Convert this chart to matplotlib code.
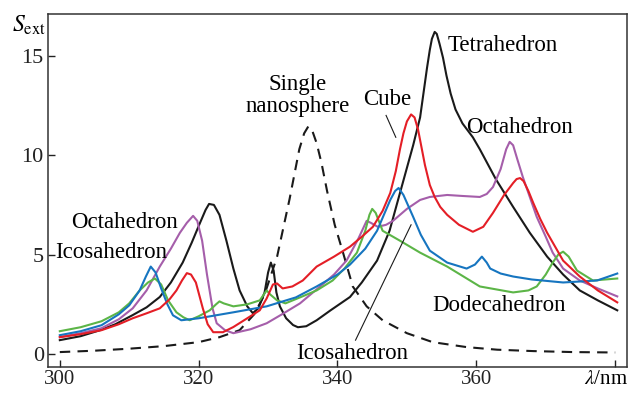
import matplotlib
matplotlib.use("Agg")
import matplotlib.pyplot as plt

plt.rcParams['font.family'] = ['Liberation Serif', 'DejaVu Serif']
plt.rcParams['mathtext.fontset'] = 'stix'

# wavelength (nm) and extinction, one pair of lists per shape
sphere_x = [300, 305, 310, 315, 320, 323, 325.9, 328, 329.5, 331.3, 333.1, 334.5, 335.2, 335.8, 336.4,
            337, 337.7, 338.5, 339.6, 340.8, 342.2, 344.2, 346.5, 350, 353.7, 358.6, 363, 368.2, 374, 380]
sphere_y = [0.1, 0.17, 0.27, 0.4, 0.6, 0.85, 1.2, 2.0, 3.0, 4.9, 7.8, 10.3, 11.1, 11.45, 11.2,
            10.6, 9.6, 8.2, 6.5, 5.1, 3.4, 2.4, 1.7, 1.05, 0.6, 0.35, 0.22, 0.15, 0.1, 0.08]

tetra_x = [300, 303, 305.8, 308, 310.5, 312.5, 314.4, 316, 317.7, 319, 320.2, 321, 321.5, 322.2, 323, 324,
           325, 325.9, 327, 327.8, 328.6, 329.5, 330, 330.4, 330.8, 331.2, 331.7, 332.6, 333.6, 334.3, 335.5,
           337, 339, 341.8, 343.5, 345.7, 347.5, 349, 350.9, 351.9, 352.9, 353.3, 353.6, 354, 354.3, 354.7,
           355.2, 355.7, 356.3, 357, 358, 359.5, 360.5, 362.8, 365.3, 367.7, 370.2, 372.5, 374.9, 377.5, 380.3]
tetra_y = [0.7, 0.9, 1.2, 1.5, 1.96, 2.35, 2.87, 3.6, 4.6, 5.6, 6.6, 7.25, 7.55, 7.5, 7.0, 5.7,
           4.3, 3.2, 2.4, 2.06, 2.3, 3.1, 4.1, 4.6, 4.2, 3.1, 2.4, 1.8, 1.46, 1.35, 1.4,
           1.7, 2.2, 2.87, 3.6, 4.7, 6.2, 8.1, 10.5, 11.9, 14.4, 15.3, 15.85, 16.2, 16.1, 15.6,
           14.9, 14.0, 13.1, 12.3, 11.6, 10.9, 10.3, 8.8, 7.4, 6.1, 4.9, 4.0, 3.2, 2.7, 2.2]

cube_x = [300, 303, 306, 308.5, 310.5, 312.5, 314.4, 315.8, 316.8, 317.6, 318.3, 318.9, 319.6, 320.6, 321.3,
          322.1, 323.5, 325, 327, 328.8, 329.8, 330.7, 331.3, 332.1, 333.5, 335, 337, 339.5, 341.8, 343.5,
          345.1, 346.5, 347.6, 348.4, 349, 349.5, 350, 350.6, 351.1, 351.6, 352.1, 352.6, 353.3, 354,
          354.8, 355.8, 357.5, 359.5, 361, 362.4, 364, 365.3, 365.8, 366.3, 366.8, 367.5, 368.2, 369.2,
          370.2, 372.5, 374.9, 377.5, 380.3]
cube_y = [0.85, 1.0, 1.2, 1.5, 1.8, 2.05, 2.3, 2.75, 3.2, 3.7, 4.07, 4.0, 3.6, 2.3, 1.5,
          1.1, 1.1, 1.36, 1.8, 2.2, 2.8, 3.5, 3.55, 3.3, 3.4, 3.7, 4.4, 4.9, 5.4, 5.9,
          6.4, 7.2, 8.1, 9.2, 10.3, 11.1, 11.7, 12.05, 11.9, 11.3, 10.4, 9.5, 8.5, 7.9,
          7.4, 7.0, 6.5, 6.15, 6.4, 7.1, 8.0, 8.6, 8.8, 8.85, 8.7, 8.2, 7.6, 6.8,
          6.1, 4.7, 3.9, 3.2, 2.6]

octa_x = [300, 303, 306, 308.5, 310.5, 312.5, 314.4, 316, 317.3, 318.3, 319.2, 319.8, 320.5, 321.2, 322,
          322.6, 323.8, 325, 327.5, 329.8, 332, 334.6, 337.5, 339.5, 341.3, 343, 344.2, 344.8, 345.8,
          347, 348, 350, 351.9, 353.3, 355.8, 358, 360.5, 361.5, 362.4, 363.5, 364.3, 364.8, 365.3,
          365.9, 366.7, 367.7, 368.7, 370, 371, 372.5, 374.9, 377.5, 380.3]
octa_y = [0.85, 1.05, 1.3, 1.75, 2.3, 3.2, 4.4, 5.3, 6.1, 6.6, 6.95, 6.7, 5.7, 4.0, 2.3,
          1.55, 1.2, 1.05, 1.25, 1.55, 2.0, 2.55, 3.4, 4.0, 4.7, 5.8, 6.7, 6.6, 6.4,
          6.5, 6.7, 7.3, 7.75, 7.9, 8.0, 7.95, 7.9, 8.05, 8.4, 9.3, 10.3, 10.67, 10.5,
          9.8, 8.9, 7.9, 6.9, 5.9, 5.1, 4.3, 3.7, 3.3, 2.9]

icosa_x = [300, 303, 306, 308.5, 310, 311.5, 312.4, 313.1, 313.8, 314.6, 315.5, 316.3, 317.5, 320,
           325, 329.8, 334, 337, 340, 341.8, 344, 345.7, 347.6, 348.3, 348.8, 349.5, 350.9, 352,
           353.3, 355.8, 358.6, 359.8, 360.8, 361.5, 362, 363.5, 365.3, 368, 372.5, 377.4, 380.3]
icosa_y = [0.95, 1.15, 1.45, 2.0, 2.45, 3.2, 3.9, 4.4, 4.1, 3.3, 2.5, 1.95, 1.7, 1.8,
           2.1, 2.4, 2.85, 3.4, 4.0, 4.5, 5.3, 6.2, 7.75, 8.2, 8.35, 8.0, 6.9, 6.0,
           5.2, 4.6, 4.3, 4.5, 4.9, 4.6, 4.3, 4.05, 3.9, 3.75, 3.6, 3.7, 4.05]

dodeca_x = [300, 303, 306, 308.5, 310, 311.5, 312.7, 313.7, 314.6, 315.6, 316.8, 317.8, 318.7, 320,
            321.6, 322.5, 323, 323.6, 325, 327, 328.8, 329.4, 329.8, 330.3, 331.3, 332.5, 334.6, 337,
            339.3, 341, 342.8, 344, 344.6, 345, 345.5, 346.5, 349, 351.9, 355.8, 360.5, 365.3, 367.5,
            368.7, 370, 371, 371.8, 372.5, 373.3, 374.5, 376.8, 380.3]
dodeca_y = [1.15, 1.35, 1.65, 2.1, 2.55, 3.2, 3.6, 3.8, 3.5, 2.7, 2.1, 1.85, 1.7, 1.9,
            2.2, 2.5, 2.65, 2.55, 2.4, 2.5, 2.7, 3.0, 3.2, 3.0, 2.7, 2.55, 2.85, 3.2,
            3.7, 4.3, 5.1, 6.2, 7.0, 7.3, 7.1, 6.2, 5.7, 5.1, 4.4, 3.4, 3.1, 3.2,
            3.4, 4.0, 4.6, 5.0, 5.15, 4.9, 4.2, 3.7, 3.8]

fig = plt.figure(figsize=(6.3, 3.94), dpi=100)
ax = fig.add_axes([0.0762, 27 / 394, 0.919, 353 / 394])

lw = 1.5
ax.plot(sphere_x, sphere_y, color='#1a1a1a', lw=lw, ls=(0, (5, 3.5)))
ax.plot(tetra_x, tetra_y, color='#1a1a1a', lw=lw)
ax.plot(octa_x, octa_y, color='#a55eaa', lw=lw)
ax.plot(dodeca_x, dodeca_y, color='#5cb547', lw=lw)
ax.plot(icosa_x, icosa_y, color='#1675c0', lw=lw)
ax.plot(cube_x, cube_y, color='#e41e26', lw=lw)

ax.set_xlim(298.3, 381.7)
ax.set_ylim(-0.65, 17.1)
ax.set_xticks([300, 320, 340, 360, 380])
ax.set_xticklabels(['300', '320', '340', '360', ''])
ax.set_yticks([0, 5, 10, 15])
ax.tick_params(direction='in', length=5, width=1, labelsize=16, colors='#222222')
ax.tick_params(axis='x', labelsize=15, pad=2)
ax.tick_params(axis='y', pad=3)
for s in ax.spines.values():
    s.set_linewidth(1.1)
    s.set_color('#333333')

fs = 16.5
ax.text(355.8, 15.5, 'Tetrahedron', fontsize=fs, va='center', ha='left')
ax.text(358.6, 11.37, 'Octahedron', fontsize=fs, va='center', ha='left')
ax.text(343.7, 12.8, 'Cube', fontsize=fs, va='center', ha='left')
ax.text(334.2, 13.0, 'Single\nnanosphere', fontsize=fs, va='center', ha='center', linespacing=1.1)
ax.text(301.7, 6.6, 'Octahedron', fontsize=fs, va='center', ha='left')
ax.text(299.3, 5.13, 'Icosahedron', fontsize=fs, va='center', ha='left')
ax.text(353.7, 2.46, 'Dodecahedron', fontsize=fs, va='center', ha='left')
ax.text(334.1, 0.05, 'Icosahedron', fontsize=fs, va='center', ha='left')

# leader lines
ax.plot([347.0, 348.4], [12.0, 10.9], color='#1a1a1a', lw=0.8)
ax.plot([342.6, 350.6], [0.7, 6.5], color='#1a1a1a', lw=0.8)

fig.text(12 / 630, 1 - 25 / 394, r'$S_{\rm ext}$', fontsize=17, va='center', ha='left')
fig.text(628 / 630, 1 - 380 / 394, r'$\lambda$/nm', fontsize=15, va='center', ha='right')

fig.savefig('out.png', dpi=100)
